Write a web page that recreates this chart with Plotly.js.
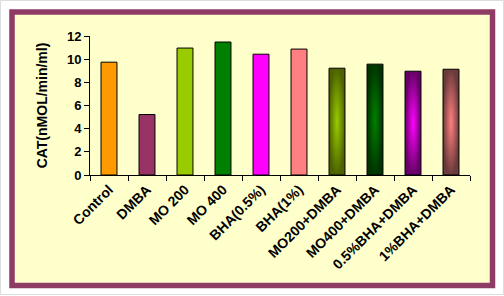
<!DOCTYPE html>
<html>
<head>
<meta charset="utf-8">
<script src="https://cdn.plot.ly/plotly-3.0.1.min.js"></script>
<style>
html,body{margin:0;padding:0;background:#ffffff;}
#chart{width:504px;height:296px;}
</style>
</head>
<body>
<div id="chart"></div>
<script>
var categories = ['Control','DMBA','MO 200','MO 400','BHA(0.5%)','BHA(1%)','MO200+DMBA','MO400+DMBA','0.5%BHA+DMBA','1%BHA+DMBA'];
var values = [9.74, 5.22, 10.96, 11.48, 10.43, 10.87, 9.22, 9.57, 8.96, 9.13];
var barColors = ['#FF9900','#993366','#99CC00','#008000','#FF00FF','#FF8080','#7A9900','#005A00','#B000B0','#B85A5A'];
// gradient (center -> edge) for the shaded bars, null for plain fills
var gradCenter = [null,null,null,null,null,null,'#99CC00','#008000','#FF00FF','#FF8080'];
var gradEdge   = [null,null,null,null,null,null,'#4D6100','#003300','#660066','#6B3A3A'];
var yTicks = [0,2,4,6,8,10,12];

var W = 504, H = 296;
var M = {l: 90, r: 34, t: 36, b: 121};
var pw = W - M.l - M.r, ph = H - M.t - M.b;
function px(x){ return (x - M.l) / pw; }
function py(y){ return (H - M.b - y) / ph; }

var FONT = 'Liberation Sans, Arial, sans-serif';

var trace = {
  type: 'bar',
  x: categories,
  y: values,
  width: 0.42,
  marker: {color: barColors, line: {color: '#000000', width: 1}},
  hoverinfo: 'none'
};

var layout = {
  width: W, height: H,
  margin: M,
  paper_bgcolor: '#FFFFFF',
  plot_bgcolor: 'rgba(0,0,0,0)',
  showlegend: false,
  font: {family: FONT, size: 14, color: '#000000'},
  xaxis: {
    type: 'category',
    tickangle: -45,
    ticks: 'outside', ticklen: 5, tickcolor: '#000', tickwidth: 1,
    tickson: 'boundaries',
    showline: true, linecolor: '#000', linewidth: 1,
    showgrid: false, zeroline: false,
    tickfont: {family: FONT, size: 14, color: '#000', weight: 'bold'},
    fixedrange: true
  },
  yaxis: {
    range: [0, 12],
    tickvals: yTicks,
    ticktext: yTicks.map(String),
    ticks: 'outside', ticklen: 5, tickcolor: '#000', tickwidth: 1,
    showline: true, linecolor: '#000', linewidth: 1,
    showgrid: false, zeroline: false,
    tickfont: {family: FONT, size: 13, color: '#000', weight: 'bold'},
    title: {text: 'CAT(nMOL/min/ml)', standoff: 16,
            font: {family: FONT, size: 14, color: '#000', weight: 'bold'}},
    fixedrange: true
  },
  shapes: [
    {type: 'rect', xref: 'paper', yref: 'paper', layer: 'below',
     x0: px(0.5), x1: px(W - 0.5), y0: py(0.5), y1: py(H - 1.5),
     line: {color: '#DDDDDD', width: 1}, fillcolor: '#FFFFFF'},
    {type: 'rect', xref: 'paper', yref: 'paper', layer: 'below',
     x0: px(12), x1: px(492.5), y0: py(12), y1: py(285.5),
     line: {color: '#8E3B66', width: 5.5}, fillcolor: '#FFFFCC'}
  ]
};

var gd = document.getElementById('chart');
Plotly.newPlot(gd, [trace], layout, {staticPlot: true}).then(function(){
  var svg = gd.querySelector('svg.main-svg');
  var defs = svg.querySelector('defs');
  var NS = 'http://www.w3.org/2000/svg';
  var paths = gd.querySelectorAll('.barlayer .trace .point path');
  for (var i = 0; i < paths.length; i++) {
    if (!gradCenter[i]) continue;
    var g = document.createElementNS(NS, 'radialGradient');
    g.setAttribute('id', 'bargrad' + i);
    g.setAttribute('cx', '0.5'); g.setAttribute('cy', '0.5'); g.setAttribute('r', '0.6');
    var s0 = document.createElementNS(NS, 'stop');
    s0.setAttribute('offset', '0'); s0.setAttribute('stop-color', gradCenter[i]);
    var s1 = document.createElementNS(NS, 'stop');
    s1.setAttribute('offset', '0.85'); s1.setAttribute('stop-color', gradEdge[i]);
    g.appendChild(s0); g.appendChild(s1);
    defs.appendChild(g);
    paths[i].style.fill = 'url(#bargrad' + i + ')';
    paths[i].style.fillOpacity = 1;
  }
});
</script>
</body>
</html>
